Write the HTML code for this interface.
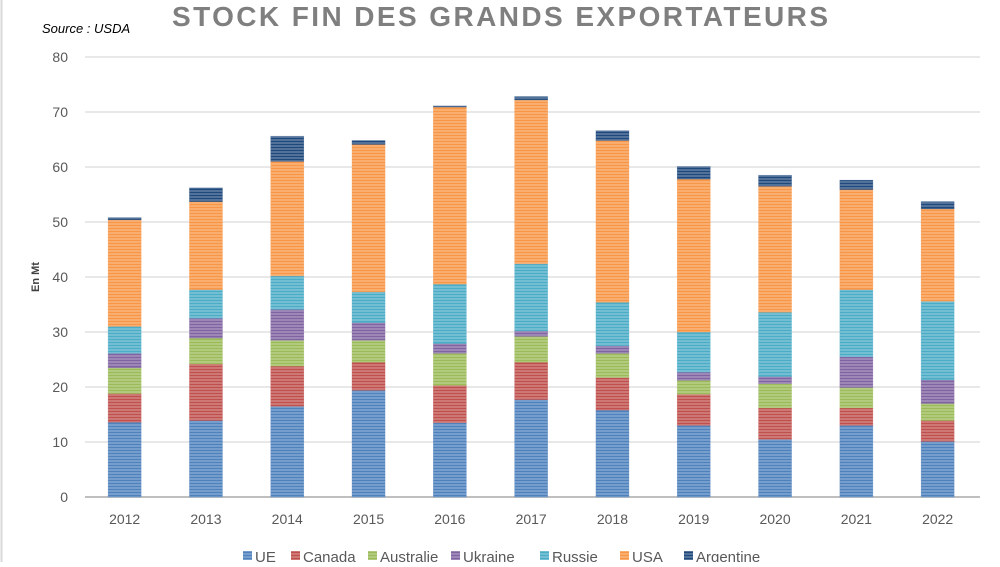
<!DOCTYPE html>
<html><head><meta charset="utf-8"><style>
body{margin:0;background:#fff;width:1000px;height:562px;overflow:hidden;font-family:"Liberation Sans",sans-serif}
</style></head><body>
<svg id="chart" width="1000" height="562" xmlns="http://www.w3.org/2000/svg">
<defs id="defs"></defs>
<line x1="1.5" y1="0" x2="1.5" y2="562" stroke="#d9d9d9" stroke-width="2"/>
<text x="500" y="26" text-anchor="middle" font-size="28" font-weight="bold" fill="#7f7f7f" textLength="656" lengthAdjust="spacing">STOCK FIN DES GRANDS EXPORTATEURS</text>
<text x="42" y="33" font-size="13" font-style="italic" fill="#000">Source : USDA</text>
<text transform="translate(39,277) rotate(-90)" text-anchor="middle" font-size="11" font-weight="bold" fill="#404040">En Mt</text>
<g id="grid"></g><g id="bars"></g><g id="xlabels"></g><g id="legend"></g>
</svg>
<script>
const years=["2012","2013","2014","2015","2016","2017","2018","2019","2020","2021","2022"];
const seriesNames=["UE","Canada","Australie","Ukraine","Russie","USA","Argentine"];
const UE=[13.6,13.9,16.5,19.4,13.5,17.7,15.8,13.0,10.5,13.0,10.1];
const Canada=[5.2,10.3,7.3,5.1,6.8,6.8,5.9,5.7,5.7,3.2,3.8];
const Australie=[4.7,4.7,4.7,4.0,5.8,4.7,4.4,2.5,4.4,3.7,3.1];
const Ukraine=[2.6,3.6,5.6,3.2,1.8,1.0,1.4,1.5,1.3,5.6,4.3];
const Russie=[4.9,5.2,6.1,5.6,10.8,12.2,7.9,7.3,11.7,12.2,14.3];
const USA=[19.4,16.0,20.8,26.8,32.2,29.8,29.4,27.8,22.9,18.2,16.8];
const Argentine=[0.4,2.5,4.6,0.7,0.2,0.6,1.8,2.3,2.0,1.7,1.3];
const yTicks=[0,10,20,30,40,50,60,70,80];
const series=[UE,Canada,Australie,Ukraine,Russie,USA,Argentine];
const colors=["#4f81bd","#c0504d","#9bbb59","#8064a2","#4bacc6","#f79646","#1f497d"];
const NS="http://www.w3.org/2000/svg";
const x0=85,cw=81.3,bw=33,yZero=497,pxPerUnit=5.5;
const yS=v=>yZero-v*pxPerUnit;
const xC=i=>x0+cw*(i+0.5)-1;
function mk(t,a,p){const e=document.createElementNS(NS,t);for(const k in a)e.setAttribute(k,a[k]);p.appendChild(e);return e;}
const defs=document.getElementById('defs');
colors.forEach((c,i)=>{const p=mk('pattern',{id:'p'+i,width:4,height:3,patternUnits:'userSpaceOnUse'},defs);
mk('rect',{width:4,height:3,fill:c},p);mk('rect',{y:1.5,width:4,height:1,fill:'#fff','fill-opacity':0.45},p);});
const grid=document.getElementById('grid');
yTicks.forEach(t=>{
 const l=mk('line',{x1:x0,x2:980,y1:yS(t),y2:yS(t),stroke:t===0?'#bfbfbf':'#d9d9d9','stroke-width':t===0?2:1.3},grid);
 
 
 const tx=mk('text',{x:68,y:yS(t)+5,'text-anchor':'end','font-size':14,fill:'#595959'},grid);
 tx.textContent=t;
 
 
});
const bars=document.getElementById('bars');
years.forEach((y,i)=>{let cum=0;
 series.forEach((s,k)=>{const v=s[i];
  const r=mk('rect',{x:xC(i)-bw/2,y:yS(cum+v),width:bw,height:v*pxPerUnit,fill:'url(#p'+k+')',stroke:colors[k],'stroke-opacity':0.5,'stroke-width':0.6},bars);
  
  
  cum+=v;});
 const t=mk('text',{x:xC(i),y:524,'text-anchor':'middle','font-size':14,fill:'#595959'},document.getElementById('xlabels'));
 t.textContent=y;
 
 
});
const lx=[243,291,368,451,540,620,684];
const lg=document.getElementById('legend');
seriesNames.forEach((n,k)=>{
 const g=mk('g',{},lg);
 
 
 mk('rect',{x:lx[k],y:551,width:9,height:9,fill:'url(#p'+k+')'},g);
 const t=mk('text',{x:lx[k]+12,y:562,'font-size':15,fill:'#595959'},g);
 t.textContent=n;
});
</script>
</body></html>
